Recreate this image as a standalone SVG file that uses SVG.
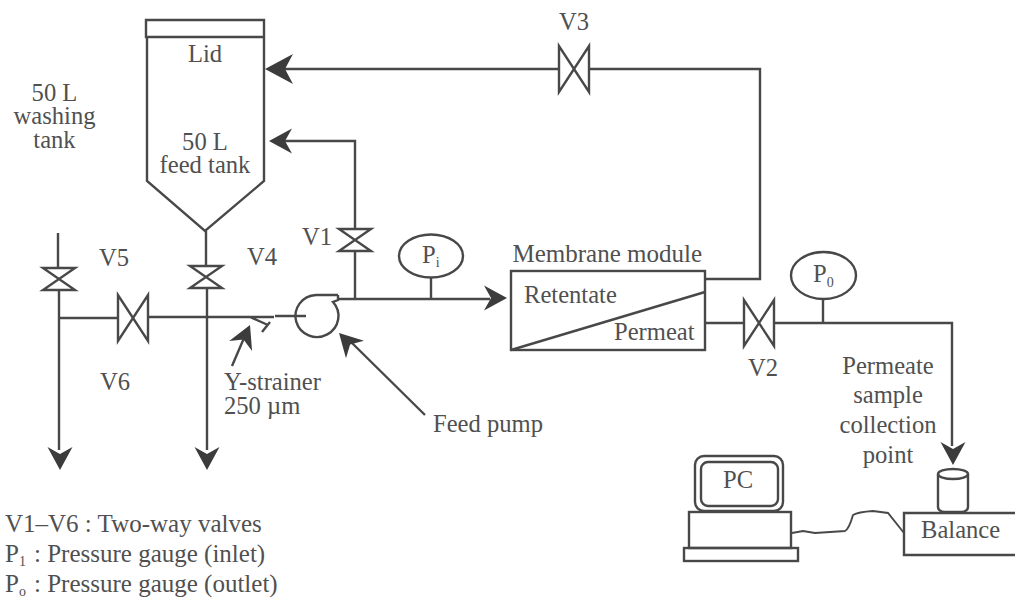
<svg xmlns="http://www.w3.org/2000/svg" width="1015" height="598" viewBox="0 0 1015 598">
<style>
text{font-family:"Liberation Serif","Times New Roman",serif;font-size:24.6px;fill:#505050}
.m{text-anchor:middle}
.b{font-size:25px}
.s{font-size:14px}
.l{fill:none;stroke:#484848;stroke-width:2.4;stroke-linejoin:miter}
.a{fill:#3c3c3c;stroke:none}
</style>
<defs>
<path id="arrow" class="a" d="M0 0L-28 -15L-20 0L-28 15Z"/>
<path id="arrow-s" class="a" d="M0 0L-23 -12.500L-16 0L-23 12.500Z"/>
<path id="vv" class="l" d="M-16 -11H16L-16 11H16Z"/>
<path id="vh" class="l" d="M-15 -23V23L15 -23V23Z"/>
</defs>
<rect width="1015" height="598" fill="#fff"/>
<g id="connectors">
<path class="l" d="M58 233V268M59 289V450M59 318H118M148 317H206M206 231V266M207 288V450M206 317H250M250 317L268 325M262 332L270 322M250 317H274M275 316H306"/>
<path class="l" d="M338 299H490M355 299V250M355 229V141H285M431 277V298M823 299V322"/>
<path class="l" d="M705 279H760V69H590M558 69H285"/>
<path class="l" d="M705 323H744M774 323H952V446"/>
<path class="l" d="M232 366L244 338M425 415L351 342"/>
<path class="l" style="stroke-width:1.9" d="M792 533L803 531L815 533L845 531Q849 529 853 515Q858 512 873 511L888 513L904 533"/>
<use href="#arrow" transform="translate(265,69) rotate(180)"/>
<use href="#arrow-s" transform="translate(269,141) rotate(180)"/>
<use href="#arrow-s" transform="translate(507,298)"/>
<use href="#arrow-s" transform="translate(953,465) rotate(90)"/>
<use href="#arrow-s" transform="translate(60,470) rotate(90)"/>
<use href="#arrow-s" transform="translate(207,470) rotate(90)"/>
<use href="#arrow-s" transform="translate(250,325) rotate(-66)"/>
<use href="#arrow-s" transform="translate(339,333) rotate(226)"/>
</g>
<g id="tank">
<path class="l" d="M146 20H264V37H146ZM147 37V181L205 231L264 181V37"/>
<text class="m" x="205" y="62">Lid</text>
<text class="m"><tspan x="205" y="150">50 L</tspan><tspan x="205" y="173">feed tank</tspan></text>
</g>
<g id="washing-tank">
<text class="m"><tspan x="54.500" y="101">50 L</tspan><tspan x="54.500" y="124">washing</tspan><tspan x="54.500" y="148">tank</tspan></text>
</g>
<g id="v1"><use href="#vv" transform="translate(355,240)"/><text x="302" y="245">V1</text></g>
<g id="v2"><use href="#vh" transform="translate(759,323)"/><text x="748" y="376">V2</text></g>
<g id="v3"><use href="#vh" transform="translate(574,69)"/><text x="559" y="30">V3</text></g>
<g id="v4"><use href="#vv" transform="translate(206,277)"/><text x="247" y="265">V4</text></g>
<g id="v5"><use href="#vv" transform="translate(59,279)"/><text x="99" y="266">V5</text></g>
<g id="v6"><use href="#vh" transform="translate(133,318)"/><text x="100" y="390">V6</text></g>
<g id="strainer"><text><tspan x="224" y="390">Y-strainer</tspan><tspan x="224" y="414">250 µm</tspan></text></g>
<g id="pump">
<path class="l" d="M338 295H316A21.500 21 0 1 0 333 302L338 300V295"/>
<text x="433" y="432">Feed pump</text>
</g>
<g id="gauge-in">
<ellipse class="l" cx="431" cy="256" rx="32" ry="21.500"/>
<text x="422" y="263">P<tspan class="s" dy="4">i</tspan></text>
</g>
<g id="gauge-out">
<ellipse class="l" cx="823.500" cy="275.500" rx="32.500" ry="23.500"/>
<text x="813" y="282">P<tspan class="s" dy="5">0</tspan></text>
</g>
<g id="membrane">
<rect class="l" x="511" y="271" width="194" height="79"/>
<path class="l" d="M511 350L705 292"/>
<text class="b" x="512.500" y="262">Membrane module</text>
<text x="524" y="303">Retentate</text>
<text x="614" y="340">Permeat</text>
</g>
<g id="permeate-label">
<text class="m"><tspan x="888" y="374">Permeate</tspan><tspan x="888" y="403">sample</tspan><tspan x="888" y="433">collection</tspan><tspan x="888" y="463">point</tspan></text>
</g>
<g id="pc">
<rect class="l" x="695" y="456" width="88" height="55" rx="9"/>
<rect class="l" x="701" y="462" width="77" height="44" rx="7"/>
<rect class="l" x="689" y="512" width="102" height="36"/>
<rect class="l" x="684" y="548" width="114" height="13"/>
<text class="m" x="738" y="488">PC</text>
</g>
<g id="balance">
<path class="l" d="M1015 513H904V555H1015"/>
<text x="921" y="538">Balance</text>
<ellipse class="l" cx="953" cy="474" rx="15" ry="5"/>
<path class="l" d="M938 474V507Q938 511 944 512H962Q968 511 968 507V474"/>
</g>
<g id="legend">
<text class="b" x="5" y="532">V1–V6 : Two-way valves</text>
<text class="b" x="5" y="562">P<tspan class="s" dy="4">1</tspan><tspan dy="-4" x="34">: Pressure gauge (inlet)</tspan></text>
<text class="b" x="5" y="592">P<tspan class="s" dy="4">o</tspan><tspan dy="-4" x="34">: Pressure gauge (outlet)</tspan></text>
</g>
</svg>
